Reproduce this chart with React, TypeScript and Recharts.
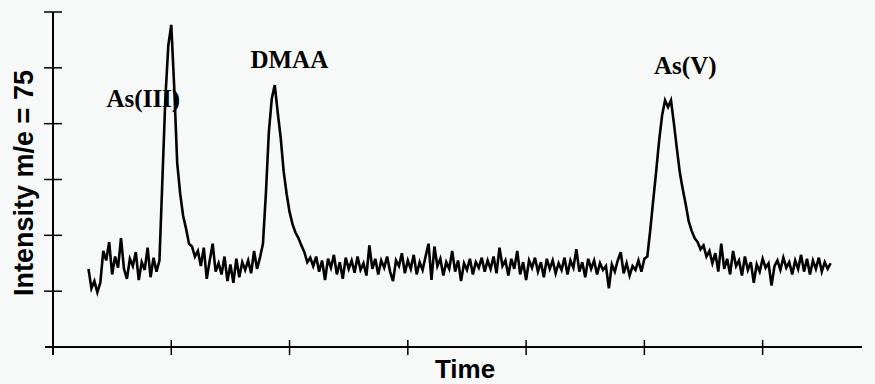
import { Label, Line, LineChart, ReferenceDot, ReferenceLine, XAxis, YAxis } from "recharts";

// sampled detector trace, m/e = 75
const T0 = 1.5; // min, first sample
const DT = 0.125; // min between samples
const SIGNAL = [
  1.4, 1.05, 1.18, 0.98, 1.15, 1.72, 1.55, 1.88, 1.3, 1.62,
  1.42, 1.95, 1.4, 1.22, 1.58, 1.45, 1.7, 1.2, 1.52, 1.38,
  1.78, 1.25, 1.6, 1.35, 1.55, 3.0, 4.45, 5.4, 5.77, 4.65,
  3.3, 2.75, 2.35, 2.12, 1.85, 1.8, 1.62, 1.72, 1.45, 1.78,
  1.22, 1.55, 1.85, 1.35, 1.5, 1.3, 1.62, 1.18, 1.48, 1.15,
  1.58, 1.25, 1.52, 1.38, 1.55, 1.32, 1.72, 1.4, 1.6, 1.85,
  2.75, 3.85, 4.45, 4.69, 4.2, 3.75, 3.15, 2.75, 2.42, 2.2,
  2.05, 1.95, 1.82, 1.7, 1.52, 1.6, 1.45, 1.62, 1.35, 1.55,
  1.2, 1.58, 1.42, 1.65, 1.3, 1.52, 1.22, 1.6, 1.4, 1.55,
  1.33, 1.62, 1.38, 1.5, 1.28, 1.82, 1.4, 1.58, 1.3, 1.55,
  1.42, 1.62, 1.35, 1.18, 1.55, 1.45, 1.68, 1.32, 1.55, 1.4,
  1.65, 1.3, 1.52, 1.38, 1.62, 1.85, 1.2, 1.8, 1.45, 1.58,
  1.28, 1.52, 1.4, 1.72, 1.35, 1.55, 1.18, 1.5, 1.38, 1.58,
  1.3, 1.52, 1.42, 1.6, 1.35, 1.55, 1.4, 1.62, 1.32, 1.78,
  1.45, 1.55, 1.28, 1.58, 1.4, 1.72, 1.3, 1.52, 1.2, 1.55,
  1.42, 1.6, 1.35, 1.52, 1.25, 1.58, 1.4, 1.55, 1.32, 1.5,
  1.38, 1.6, 1.3, 1.55, 1.42, 1.75, 1.35, 1.52, 1.25, 1.58,
  1.4, 1.55, 1.3, 1.5, 1.38, 1.45, 1.05, 1.48, 1.35, 1.55,
  1.7, 1.32, 1.5, 1.28, 1.45, 1.38, 1.55, 1.35, 1.58, 1.62,
  2.1, 2.63, 3.15, 3.7, 4.15, 4.42, 4.3, 4.42, 4.0, 3.55,
  3.12, 2.82, 2.55, 2.25, 2.08, 1.95, 1.88, 1.75, 1.82, 1.62,
  1.72, 1.5, 1.68, 1.35, 1.85, 1.4, 1.58, 1.3, 1.72, 1.45,
  1.55, 1.28, 1.62, 1.38, 1.52, 1.15, 1.48, 1.35, 1.58, 1.42,
  1.5, 1.1, 1.45, 1.55, 1.38, 1.6, 1.42, 1.52, 1.3, 1.55,
  1.4, 1.65, 1.35, 1.58, 1.3, 1.55, 1.4, 1.6, 1.35, 1.52,
  1.4, 1.5,
];

const TIME_TICKS = [5, 10, 15, 20, 25, 30];
const INTENSITY_TICKS = [1, 2, 3, 4, 5];
const TIME_MAX = 34.2;
const INTENSITY_MAX = 6;

const PEAK_NAMES = ["As(III)", "DMAA", "As(V)"];
const PEAK_LABEL_T = [3.82, 9.99, 26.73];
const PEAK_LABEL_V = [4.46, 5.16, 5.05];

const rows = SIGNAL.map((v, i) => ({ t: T0 + i * DT, v }));

const SANS = "'Liberation Sans', Arial, sans-serif";
const SERIF = "'Liberation Serif', 'Times New Roman', serif";

// ticks cross the axis line, like the plotter output
function XTick({ x, y }: any) {
  return <line x1={x} x2={x} y1={y - 7} y2={y + 8} stroke="#000" strokeWidth={1.5} />;
}

function YTick({ x, y }: any) {
  return <line x1={x - 9} x2={x + 9} y1={y} y2={y} stroke="#000" strokeWidth={1.5} />;
}

// cap tick at the top of the intensity axis
function TopCap(p: any) {
  const x = Math.min(p.x1, p.x2);
  const y = p.y1;
  return <line x1={x - 9} x2={x + 9} y1={y} y2={y} stroke="#000" strokeWidth={1.5} />;
}

// both axes poke a little past the origin
function OriginStubs(p: any) {
  const x = Math.min(p.x1, p.x2);
  const y = p.y1;
  return (
    <g stroke="#000" strokeWidth={2}>
      <line x1={x - 8} x2={x} y1={y} y2={y} />
      <line x1={x} x2={x} y1={y} y2={y + 8} />
    </g>
  );
}

const YTitle = () => (
  <text
    x={33}
    y={183}
    transform="rotate(-90 33 183)"
    textAnchor="middle"
    fontFamily={SANS}
    fontWeight="bold"
    fontSize={27}
    fill="#000"
  >
    Intensity m/e = 75
  </text>
);

const XTitle = () => (
  <text x={465} y={378} textAnchor="middle" fontFamily={SANS} fontWeight="bold" fontSize={26} fill="#000">
    Time
  </text>
);

export default function App() {
  return (
    <div style={{ position: "absolute", left: 0, top: 0, width: 875, height: 384, background: "#f7f8f8" }}>
      <LineChart width={875} height={384} data={rows} margin={{ top: 12, right: 13, bottom: 0, left: 13 }}>
        <XAxis
          type="number"
          dataKey="t"
          domain={[0, TIME_MAX]}
          ticks={TIME_TICKS}
          interval={0}
          tickLine={false}
          tickSize={0}
          tickMargin={0}
          tick={XTick}
          height={37}
          axisLine={{ stroke: "#000", strokeWidth: 2 }}
        >
          <Label content={XTitle} />
        </XAxis>
        <YAxis
          type="number"
          domain={[0, INTENSITY_MAX]}
          ticks={INTENSITY_TICKS}
          interval={0}
          tickLine={false}
          tickSize={0}
          tickMargin={0}
          tick={YTick}
          width={40}
          axisLine={{ stroke: "#000", strokeWidth: 2 }}
        >
          <Label content={YTitle} />
        </YAxis>
        <ReferenceLine y={INTENSITY_MAX} shape={TopCap} />
        <ReferenceLine y={0} shape={OriginStubs} />
        {PEAK_NAMES.map((name, i) => (
          <ReferenceDot
            key={name}
            x={PEAK_LABEL_T[i]}
            y={PEAK_LABEL_V[i]}
            r={0}
            fill="none"
            stroke="none"
            label={{
              value: name,
              position: "center",
              fill: "#000",
              fontSize: 25,
              fontWeight: "bold",
              fontFamily: SERIF,
            }}
          />
        ))}
        <Line
          type="linear"
          dataKey="v"
          stroke="#000"
          strokeWidth={2.6}
          dot={false}
          isAnimationActive={false}
        />
      </LineChart>
    </div>
  );
}
